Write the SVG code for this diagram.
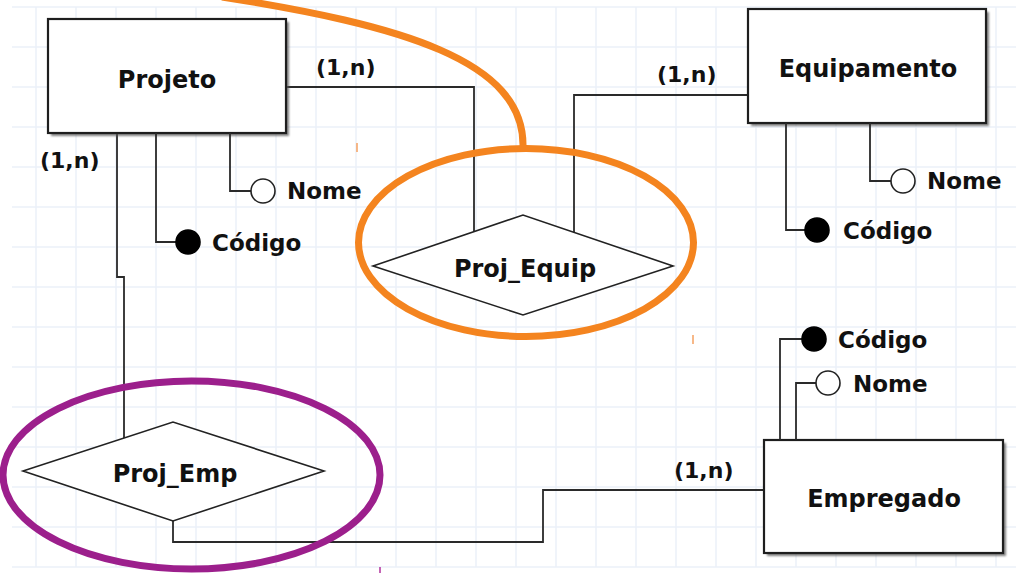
<svg xmlns="http://www.w3.org/2000/svg" width="1016" height="573" viewBox="0 0 1016 573">
<defs>
<style>
.grid line{stroke:#ebf1f9;stroke-width:1.5}
.ent{fill:#fff;stroke:#1e1e1e;stroke-width:2.2}
.shadow{fill:#555;opacity:0.75}
.rel{fill:#fff;stroke:#222;stroke-width:1.6}
.con{fill:none;stroke:#2a2a2a;stroke-width:1.8}
.t{font-family:"DejaVu Sans",sans-serif;font-weight:bold;fill:#111}
.name{font-size:24px;text-anchor:middle}
.attr{font-size:23px}
.card{font-size:22px}
.ao{fill:#fff;stroke:#222;stroke-width:1.6}
.af{fill:#000;stroke:#000;stroke-width:1.6}
.hl{fill:none;stroke-width:7}
</style>
<filter id="sh" x="-10%" y="-10%" width="120%" height="120%">
<feGaussianBlur stdDeviation="1"/>
</filter>
</defs>
<rect width="1016" height="573" fill="#fff"/>
<g class="grid">
<line x1="36" y1="7" x2="36" y2="567"/><line x1="76" y1="7" x2="76" y2="567"/><line x1="116" y1="7" x2="116" y2="567"/><line x1="156" y1="7" x2="156" y2="567"/><line x1="196" y1="7" x2="196" y2="567"/><line x1="236" y1="7" x2="236" y2="567"/><line x1="276" y1="7" x2="276" y2="567"/><line x1="316" y1="7" x2="316" y2="567"/><line x1="356" y1="7" x2="356" y2="567"/><line x1="396" y1="7" x2="396" y2="567"/><line x1="436" y1="7" x2="436" y2="567"/><line x1="476" y1="7" x2="476" y2="567"/><line x1="516" y1="7" x2="516" y2="567"/><line x1="556" y1="7" x2="556" y2="567"/><line x1="596" y1="7" x2="596" y2="567"/><line x1="636" y1="7" x2="636" y2="567"/><line x1="676" y1="7" x2="676" y2="567"/><line x1="716" y1="7" x2="716" y2="567"/><line x1="756" y1="7" x2="756" y2="567"/><line x1="796" y1="7" x2="796" y2="567"/><line x1="836" y1="7" x2="836" y2="567"/><line x1="876" y1="7" x2="876" y2="567"/><line x1="916" y1="7" x2="916" y2="567"/><line x1="956" y1="7" x2="956" y2="567"/><line x1="996" y1="7" x2="996" y2="567"/>
<line x1="12" y1="7" x2="1016" y2="7"/><line x1="12" y1="47" x2="1016" y2="47"/><line x1="12" y1="87" x2="1016" y2="87"/><line x1="12" y1="127" x2="1016" y2="127"/><line x1="12" y1="167" x2="1016" y2="167"/><line x1="12" y1="207" x2="1016" y2="207"/><line x1="12" y1="247" x2="1016" y2="247"/><line x1="12" y1="287" x2="1016" y2="287"/><line x1="12" y1="327" x2="1016" y2="327"/><line x1="12" y1="367" x2="1016" y2="367"/><line x1="12" y1="407" x2="1016" y2="407"/><line x1="12" y1="447" x2="1016" y2="447"/><line x1="12" y1="487" x2="1016" y2="487"/><line x1="12" y1="527" x2="1016" y2="527"/><line x1="12" y1="567" x2="1016" y2="567"/>
</g>
<g id="connectors">
<polyline class="con" points="286,87 474,87 474,232"/>
<polyline class="con" points="748,95 574,95 574,232"/>
<polyline class="con" points="117,133 117,277 124,277 124,438"/>
<polyline class="con" points="173,521 173,542 543,542 543,490 764,490"/>
<text class="t card" x="316" y="75">(1,n)</text>
<text class="t card" x="657" y="82">(1,n)</text>
<text class="t card" x="40" y="168">(1,n)</text>
<text class="t card" x="674" y="478">(1,n)</text>
</g>
<g id="projeto">
<rect class="shadow" x="51" y="22" width="238" height="114" filter="url(#sh)"/>
<rect class="ent" x="48" y="19" width="238" height="114"/>
<text class="t name" x="167" y="88">Projeto</text>
</g>
<g id="projeto-nome">
<polyline class="con" points="230,133 230,191 251,191"/>
<circle class="ao" cx="263" cy="191" r="12"/>
<text class="t attr" x="287" y="199">Nome</text>
</g>
<g id="projeto-codigo">
<polyline class="con" points="156,133 156,242 176,242"/>
<circle class="af" cx="188" cy="242" r="12"/>
<text class="t attr" x="212" y="251">Código</text>
</g>
<g id="equipamento">
<rect class="shadow" x="751" y="12" width="238" height="114" filter="url(#sh)"/>
<rect class="ent" x="748" y="9" width="238" height="114"/>
<text class="t name" x="868" y="77">Equipamento</text>
</g>
<g id="equipamento-nome">
<polyline class="con" points="870,123 870,181 891,181"/>
<circle class="ao" cx="903" cy="181" r="12"/>
<text class="t attr" x="927" y="189">Nome</text>
</g>
<g id="equipamento-codigo">
<polyline class="con" points="786,123 786,230 805,230"/>
<circle class="af" cx="817" cy="230" r="12"/>
<text class="t attr" x="843" y="239">Código</text>
</g>
<g id="empregado">
<rect class="shadow" x="767" y="443" width="239" height="113" filter="url(#sh)"/>
<rect class="ent" x="764" y="440" width="239" height="113"/>
<text class="t name" x="884" y="507">Empregado</text>
</g>
<g id="empregado-codigo">
<polyline class="con" points="780,440 780,339 802,339"/>
<circle class="af" cx="814" cy="339" r="12"/>
<text class="t attr" x="838" y="348">Código</text>
</g>
<g id="empregado-nome">
<polyline class="con" points="796,440 796,383 816,383"/>
<circle class="ao" cx="828" cy="383" r="12"/>
<text class="t attr" x="853" y="392">Nome</text>
</g>
<g id="proj_equip">
<polygon class="rel" points="373,266 523,215 673,266 523,315"/>
<text class="t name" x="525" y="277">Proj_Equip</text>
</g>
<g id="proj_emp">
<polygon class="rel" points="23,471 173,422 324,471 173,521"/>
<text class="t name" x="175" y="482">Proj_Emp</text>
</g>
<g id="highlights">
<ellipse class="hl" cx="526" cy="242.5" rx="167.5" ry="94" stroke="#f4841f"/>
<path class="hl" d="M222,-3 C400,25 525,60 523,147" stroke="#f4841f"/>
<ellipse class="hl" cx="191.5" cy="475" rx="188.5" ry="94" stroke="#9c1f8c"/>
<line x1="357" y1="143" x2="357" y2="152" stroke="#f4a060" stroke-width="1.5"/>
<line x1="693" y1="335" x2="693" y2="344" stroke="#f4a060" stroke-width="1.5"/>
<line x1="380" y1="567" x2="380" y2="573" stroke="#b0309c" stroke-width="1.5"/>
</g>
</svg>
